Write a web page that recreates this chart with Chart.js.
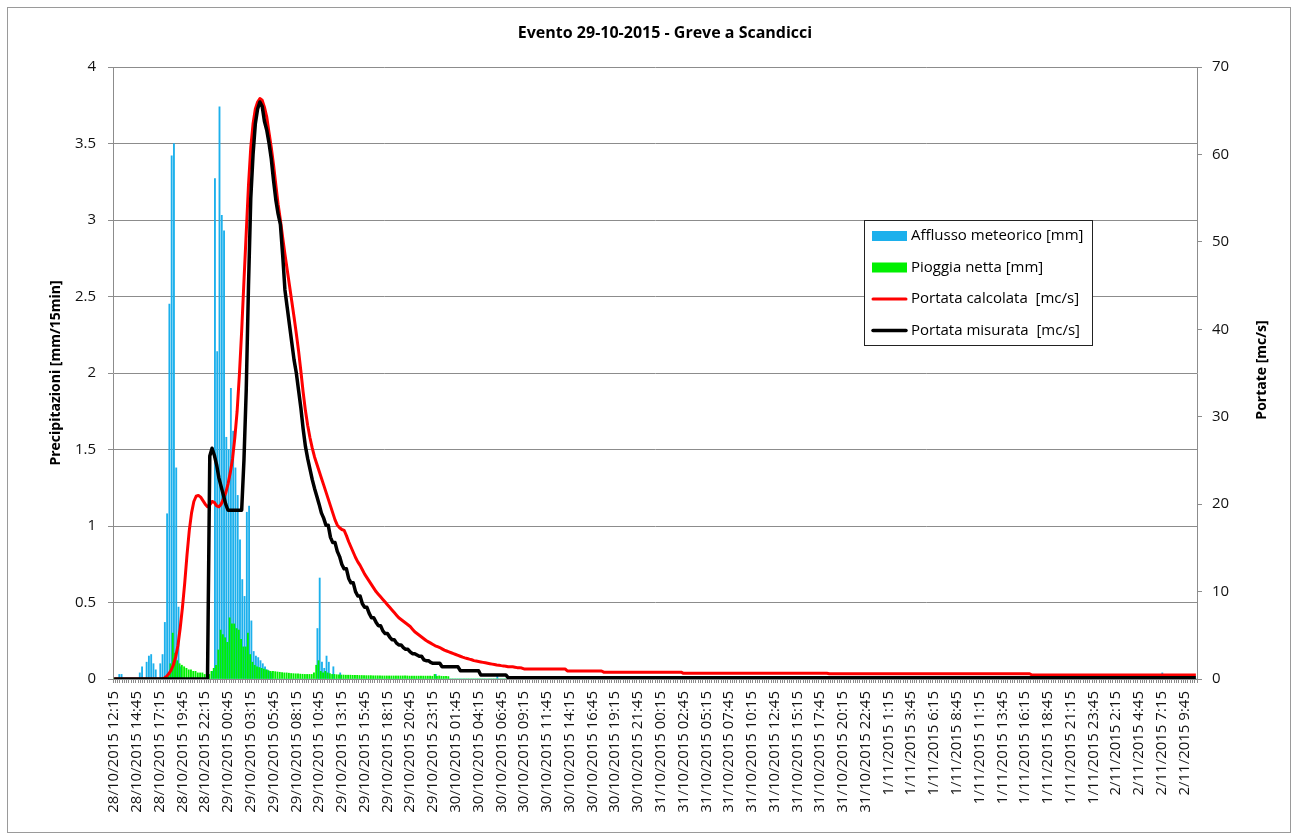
<!DOCTYPE html>
<html lang="it">
<head>
<meta charset="utf-8">
<title>Evento 29-10-2015 - Greve a Scandicci</title>
<script src="https://cdn.jsdelivr.net/npm/chart.js@4.4.1/dist/chart.umd.min.js"></script>
<style>
    html, body { margin: 0; padding: 0; background: #ffffff; }
    #wrap { position: relative; width: 1297px; height: 839px; }
    #frame {
        position: absolute; left: 7px; top: 7px; width: 1282px; height: 824px;
        border: 1px solid #9a9a9a; pointer-events: none;
    }
</style>
</head>
<body>
<div id="wrap">
    <canvas id="eventChart" width="1297" height="839"></canvas>
    <div id="frame"></div>
</div>

<script>
/* ================= DATA (one value every 15 min, 28/10/2015 12:15 -> 2/11/2015 11:00) ================= */
const tickLabels = [
    "28/10/2015 12:15", "28/10/2015 14:45", "28/10/2015 17:15", "28/10/2015 19:45", "28/10/2015 22:15",
    "29/10/2015 00:45", "29/10/2015 03:15", "29/10/2015 05:45", "29/10/2015 08:15", "29/10/2015 10:45",
    "29/10/2015 13:15", "29/10/2015 15:45", "29/10/2015 18:15", "29/10/2015 20:45", "29/10/2015 23:15",
    "30/10/2015 01:45", "30/10/2015 04:15", "30/10/2015 06:45", "30/10/2015 09:15", "30/10/2015 11:45",
    "30/10/2015 14:15", "30/10/2015 16:45", "30/10/2015 19:15", "30/10/2015 21:45",
    "31/10/2015 00:15", "31/10/2015 02:45", "31/10/2015 05:15", "31/10/2015 07:45", "31/10/2015 10:15",
    "31/10/2015 12:45", "31/10/2015 15:15", "31/10/2015 17:45", "31/10/2015 20:15", "31/10/2015 22:45",
    "1/11/2015 1:15", "1/11/2015 3:45", "1/11/2015 6:15", "1/11/2015 8:45", "1/11/2015 11:15",
    "1/11/2015 13:45", "1/11/2015 16:15", "1/11/2015 18:45", "1/11/2015 21:15", "1/11/2015 23:45",
    "2/11/2015 2:15", "2/11/2015 4:45", "2/11/2015 7:15", "2/11/2015 9:45"
];

// Afflusso meteorico [mm/15min]
const afflusso = [
    0,0,0.03,0.03,0,0,0,0,0,0, 0,0.04,0.08,0,0.11,0.15,0.16,0.1,0.06,0,
    0.1,0.16,0.37,1.08,2.45,3.42,3.5,1.38,0.47,0.08, 0,0,0,0,0,0,0,0,0,0,
    0,0,0,0.05,3.27,2.14,3.74,3.03,2.93,1.58, 1.5,1.9,1.62,1.38,1.2,0.91,0.65,0.54,1.09,1.13,
    0.38,0.18,0.15,0.14,0.12,0.1,0.08,0.06,0.05,0.04, 0,0,0,0,0,0,0,0,0,0,
    0,0,0,0,0,0,0,0,0,0.33, 0.66,0.11,0.07,0.15,0.11,0,0.08,0,0,0.04,
    0,0,0,0,0,0,0,0,0,0, 0,0,0,0,0,0,0,0,0,0,
    0,0,0,0,0,0,0,0,0,0, 0,0,0,0,0,0,0,0,0,0,
    0,0.03,0,0,0,0,0,0,0,0, 0,0,0,0,0,0,0,0,0,0,
    0,0,0,0,0,0,0,0,0.02,0, 0,0,0,0,0,0,0,0,0,0,
    0,0,0,0,0,0,0,0,0,0, 0,0,0,0,0,0,0,0,0,0,
    0,0,0,0,0,0,0,0,0,0, 0,0,0,0,0,0,0,0,0,0,
    0,0,0,0,0,0,0,0,0,0, 0,0,0,0,0,0,0,0,0,0,
    0,0,0,0,0,0,0,0,0,0, 0,0,0,0,0,0,0,0,0,0,
    0,0,0,0,0,0,0,0,0,0, 0,0,0,0,0,0,0,0,0,0,
    0,0,0,0,0,0,0,0,0,0, 0,0,0,0,0,0,0,0,0,0,
    0,0,0,0,0,0,0,0,0,0, 0,0,0,0,0,0,0,0,0,0,
    0,0,0,0,0,0,0,0,0,0, 0,0,0,0,0,0,0,0,0,0,
    0,0,0,0,0,0,0,0,0,0, 0,0,0,0,0,0,0,0,0,0,
    0,0,0,0,0,0,0,0,0,0, 0,0,0,0,0,0,0,0,0,0,
    0,0,0,0,0,0,0,0,0,0, 0,0,0,0,0,0,0,0,0,0,
    0,0,0,0,0,0,0,0,0,0, 0,0,0,0,0,0,0,0,0,0,
    0,0,0,0,0,0,0,0,0,0, 0,0,0,0,0,0,0,0,0,0,
    0,0,0,0,0,0,0,0,0,0, 0,0,0,0,0,0,0,0,0,0,
    0.04,0,0,0,0,0,0,0,0,0, 0,0,0,0,0,0
];

// Pioggia netta [mm/15min]
const pioggiaNetta = [
    0,0,0,0,0,0,0,0,0,0, 0,0,0,0,0,0,0,0,0,0,
    0,0,0,0,0.03,0.1,0.3,0.17,0.12,0.1, 0.09,0.08,0.07,0.06,0.06,0.05,0.05,0.04,0.04,0.04,
    0.03,0.03,0.03,0.05,0.07,0.09,0.19,0.32,0.29,0.27, 0.24,0.4,0.36,0.36,0.33,0.32,0.26,0.21,0.21,0.3,
    0.16,0.11,0.09,0.08,0.075,0.07,0.065,0.06,0.055,0.05, 0.05,0.048,0.046,0.044,0.042,0.04,0.04,0.038,0.036,0.035,
    0.034,0.033,0.032,0.031,0.03,0.03,0.03,0.03,0.04,0.09, 0.12,0.05,0.04,0.05,0.04,0.035,0.03,0.03,0.028,0.027,
    0.026,0.026,0.025,0.025,0.025,0.024,0.024,0.024,0.023,0.023, 0.023,0.022,0.022,0.022,0.021,0.021,0.021,0.02,0.02,0.02,
    0.02,0.02,0.02,0.02,0.02,0.02,0.02,0.02,0.02,0.02, 0.019,0.019,0.019,0.019,0.019,0.019,0.019,0.019,0.019,0.019,
    0.018,0.03,0.018,0.02,0.018,0.017,0.017,0.016,0,0, 0,0,0,0,0,0,0,0,0,0,
    0,0,0,0,0,0,0,0,0,0, 0,0,0,0,0,0,0,0,0,0,
    0,0,0,0,0,0,0,0,0,0, 0,0,0,0,0,0,0,0,0,0,
    0,0,0,0,0,0,0,0,0,0, 0,0,0,0,0,0,0,0,0,0,
    0,0,0,0,0,0,0,0,0,0, 0,0,0,0,0,0,0,0,0,0,
    0,0,0,0,0,0,0,0,0,0, 0,0,0,0,0,0,0,0,0,0,
    0,0,0,0,0,0,0,0,0,0, 0,0,0,0,0,0,0,0,0,0,
    0,0,0,0,0,0,0,0,0,0, 0,0,0,0,0,0,0,0,0,0,
    0,0,0,0,0,0,0,0,0,0, 0,0,0,0,0,0,0,0,0,0,
    0,0,0,0,0,0,0,0,0,0, 0,0,0,0,0,0,0,0,0,0,
    0,0,0,0,0,0,0,0,0,0, 0,0,0,0,0,0,0,0,0,0,
    0,0,0,0,0,0,0,0,0,0, 0,0,0,0,0,0,0,0,0,0,
    0,0,0,0,0,0,0,0,0,0, 0,0,0,0,0,0,0,0,0,0,
    0,0,0,0,0,0,0,0,0,0, 0,0,0,0,0,0,0,0,0,0,
    0,0,0,0,0,0,0,0,0,0, 0,0,0,0,0,0,0,0,0,0,
    0,0,0,0,0,0,0,0,0,0, 0,0,0,0,0,0,0,0,0,0,
    0,0,0,0,0,0,0,0,0,0, 0,0,0,0,0,0
];

// Portata calcolata [mc/s]
const portataCalcolata = [
    0,0,0,0,0,0,0,0,0,0, 0,0,0,0,0,0,0,0,0,0,
    0,0,0.1,0.3,0.6,1,1.6,2.5,3.8,5.8, 8.2,11,14.2,17,19,20.3,20.9,21,20.8,20.4,
    20,19.7,19.9,20.3,20.2,19.8,19.7,20,20.6,21.3, 22.3,23.6,25.2,27.6,30.6,34.8,39.8,45.5,51,56.5,
    60.8,63.5,65.2,66,66.4,66.2,65.4,64.3,62.5,60.8, 58.8,56.5,54.3,52.5,50.5,48.6,46.8,45,43.2,41.4,
    39.5,37.5,35.2,32.8,30.7,29,27.6,26.4,25.4,24.6, 23.8,23,22.2,21.4,20.6,19.8,19,18.2,17.6,17.3,
    17.1,17,16.4,15.7,15.1,14.5,13.9,13.4,13,12.5, 12,11.6,11.2,10.8,10.4,10,9.7,9.4,9.1,8.8,
    8.5,8.2,7.9,7.6,7.3,7,6.8,6.6,6.4,6.2, 6,5.7,5.4,5.2,5,4.8,4.6,4.4,4.25,4.1,
    3.95,3.8,3.7,3.6,3.45,3.3,3.2,3.1,3,2.9, 2.8,2.7,2.6,2.5,2.42,2.35,2.27,2.2,2.1,2.05,
    2,1.95,1.9,1.85,1.8,1.75,1.7,1.65,1.6,1.57, 1.53,1.5,1.45,1.4,1.4,1.4,1.35,1.3,1.3,1.25,
    1.15,1.15,1.15,1.15,1.15,1.15,1.15,1.15,1.15,1.15, 1.15,1.15,1.15,1.15,1.15,1.15,1.15,1.15,1.15,0.92,
    0.92,0.92,0.92,0.92,0.92,0.92,0.92,0.92,0.92,0.92, 0.92,0.92,0.92,0.92,0.92,0.78,0.78,0.78,0.78,0.78,
    0.78,0.78,0.78,0.78,0.78,0.78,0.78,0.78,0.78,0.78, 0.78,0.78,0.78,0.78,0.78,0.78,0.78,0.78,0.78,0.78,
    0.78,0.78,0.78,0.78,0.78,0.78,0.78,0.78,0.78,0.78, 0.65,0.65,0.65,0.65,0.65,0.65,0.65,0.65,0.65,0.65,
    0.65,0.65,0.65,0.65,0.65,0.65,0.65,0.65,0.65,0.65, 0.65,0.65,0.65,0.65,0.65,0.65,0.65,0.65,0.65,0.65,
    0.65,0.65,0.65,0.65,0.65,0.65,0.65,0.65,0.65,0.65, 0.65,0.65,0.65,0.65,0.65,0.65,0.65,0.65,0.65,0.65,
    0.65,0.65,0.65,0.65,0.65,0.65,0.65,0.65,0.65,0.65, 0.65,0.65,0.65,0.65,0.6,0.6,0.6,0.6,0.6,0.6,
    0.6,0.6,0.6,0.6,0.6,0.6,0.6,0.6,0.6,0.6, 0.6,0.6,0.6,0.6,0.6,0.6,0.6,0.6,0.6,0.6,
    0.6,0.6,0.6,0.6,0.6,0.6,0.6,0.6,0.6,0.6, 0.6,0.6,0.6,0.6,0.6,0.6,0.6,0.6,0.6,0.6,
    0.6,0.6,0.6,0.6,0.6,0.6,0.6,0.6,0.6,0.6, 0.6,0.6,0.6,0.6,0.6,0.6,0.6,0.6,0.6,0.6,
    0.6,0.6,0.6,0.6,0.6,0.6,0.6,0.6,0.6,0.6, 0.6,0.6,0.6,0.6,0.6,0.6,0.6,0.6,0.6,0.6,
    0.6,0.6,0.6,0.45,0.45,0.45,0.45,0.45,0.45,0.45, 0.45,0.45,0.45,0.45,0.45,0.45,0.45,0.45,0.45,0.45,
    0.45,0.45,0.45,0.45,0.45,0.45,0.45,0.45,0.45,0.45, 0.45,0.45,0.45,0.45,0.45,0.45,0.45,0.45,0.45,0.45,
    0.45,0.45,0.45,0.45,0.45,0.45,0.45,0.45,0.45,0.45, 0.45,0.45,0.45,0.45,0.45,0.45,0.45,0.45,0.45,0.45,
    0.45,0.45,0.45,0.45,0.45,0.45,0.45,0.45,0.45,0.45, 0.45,0.45,0.45,0.45,0.45,0.45
];

// Portata misurata [mc/s]
const portataMisurata = [
    0,0,0,0,0,0,0,0,0,0, 0,0,0,0,0,0,0,0,0,0,
    0,0,0,0,0,0,0,0,0,0, 0,0,0,0,0,0,0,0,0,0,
    0,0,25.5,26.4,25.6,24.5,23,22,21,20, 19.3,19.3,19.3,19.3,19.3,19.3,19.3,25,33,45,
    55,60,63.5,65.2,66,65.5,63.8,62.8,61.3,59.5, 57,54.8,53.2,52,48.5,44.5,42.5,40.5,38.5,36.5,
    35,33,31,28.6,26.6,25.2,24,22.8,21.8,20.9, 20,19,18.4,17.6,17.6,16.2,15.6,15.6,14.6,14,
    13.1,12.6,12.6,11.5,11,11,10,9.5,9.5,8.6, 8.2,8.2,7.5,7,7,6.5,6.1,6.1,5.5,5.2,
    5.2,4.8,4.5,4.5,4.1,3.9,3.9,3.6,3.4,3.4, 3.1,2.9,2.9,2.75,2.6,2.6,2.2,2.1,2.1,1.9,
    1.8,1.8,1.8,1.8,1.4,1.4,1.4,1.4,1.4,1.4, 1.4,1.4,0.95,0.95,0.95,0.95,0.95,0.95,0.95,0.95,
    0.95,0.46,0.46,0.46,0.46,0.46,0.46,0.46,0.46,0.46, 0.46,0.46,0.46,0.15,0.15,0.15,0.15,0.15,0.15,0.15,
    0.15,0.15,0.15,0.15,0.15,0.15,0.15,0.15,0.15,0.15, 0.15,0.15,0.15,0.15,0.15,0.15,0.15,0.15,0.15,0.15,
    0.15,0.15,0.15,0.15,0.15,0.15,0.15,0.15,0.15,0.15, 0.15,0.15,0.15,0.15,0.15,0.15,0.15,0.15,0.15,0.15,
    0.15,0.15,0.15,0.15,0.15,0.15,0.15,0.15,0.15,0.15, 0.15,0.15,0.15,0.15,0.15,0.15,0.15,0.15,0.15,0.15,
    0.15,0.15,0.15,0.15,0.15,0.15,0.15,0.15,0.15,0.15, 0.15,0.15,0.15,0.15,0.15,0.15,0.15,0.15,0.15,0.15,
    0.15,0.15,0.15,0.15,0.15,0.15,0.15,0.15,0.15,0.15, 0.15,0.15,0.15,0.15,0.15,0.15,0.15,0.15,0.15,0.15,
    0.15,0.15,0.15,0.15,0.15,0.15,0.15,0.15,0.15,0.15, 0.15,0.15,0.15,0.15,0.15,0.15,0.15,0.15,0.15,0.15,
    0.15,0.15,0.15,0.15,0.15,0.15,0.15,0.15,0.15,0.15, 0.15,0.15,0.15,0.15,0.15,0.15,0.15,0.15,0.15,0.15,
    0.15,0.15,0.15,0.15,0.15,0.15,0.15,0.15,0.15,0.15, 0.15,0.15,0.15,0.15,0.15,0.15,0.15,0.15,0.15,0.15,
    0.15,0.15,0.15,0.15,0.15,0.15,0.15,0.15,0.15,0.15, 0.15,0.15,0.15,0.15,0.15,0.15,0.15,0.15,0.15,0.15,
    0.15,0.15,0.15,0.15,0.15,0.15,0.15,0.15,0.15,0.15, 0.15,0.15,0.15,0.15,0.15,0.15,0.15,0.15,0.15,0.15,
    0.15,0.15,0.15,0.15,0.15,0.15,0.15,0.15,0.15,0.15, 0.15,0.15,0.15,0.15,0.15,0.15,0.15,0.15,0.15,0.15,
    0.15,0.15,0.15,0.15,0.15,0.15,0.15,0.15,0.15,0.15, 0.15,0.15,0.15,0.15,0.15,0.15,0.15,0.15,0.15,0.15,
    0.15,0.15,0.15,0.15,0.15,0.15,0.15,0.15,0.15,0.15, 0.15,0.15,0.15,0.15,0.15,0.15,0.15,0.15,0.15,0.15,
    0.15,0.15,0.15,0.15,0.15,0.15,0.15,0.15,0.15,0.15, 0.15,0.15,0.15,0.15,0.15,0.15,0.15,0.15,0.15,0.15,
    0.15,0.15,0.15,0.15,0.15,0.15,0.15,0.15,0.15,0.15, 0.15,0.15,0.15,0.15,0.15,0.15
];

/* ================= CATEGORIES (15 min steps) ================= */
function pad2(n) {
    return n < 10 ? "0" + n : String(n);
}

const startTime = new Date(2015, 9, 28, 12, 15);
const categories = afflusso.map((_, i) => {
    const d = new Date(startTime.getTime() + i * 15 * 60000);
    return d.getDate() + "/" + (d.getMonth() + 1) + "/2015 " + d.getHours() + ":" + pad2(d.getMinutes());
});

/* ================= LEGEND INSIDE PLOT + TITLES ================= */
const FONT = "'Open Sans', 'Liberation Sans', sans-serif";

const insideLegend = {
    id: "insideLegend",
    afterDraw(chart) {
        const ctx = chart.ctx;
        const area = chart.chartArea;
        const bx = area.right - 333;
        const by = area.top + 153;
        const bw = 228;
        const bh = 125;

        ctx.save();

        // chart title
        ctx.fillStyle = "#000000";
        ctx.font = "bold 16px " + FONT;
        ctx.textAlign = "center";
        ctx.textBaseline = "middle";
        ctx.fillText("Evento 29-10-2015 - Greve a Scandicci", 665, 33);

        // right axis title, read bottom to top like the left one
        ctx.save();
        ctx.font = "bold 14px " + FONT;
        ctx.translate(1262, (area.top + area.bottom) / 2 - 3);
        ctx.rotate(-Math.PI / 2);
        ctx.fillText("Portate [mc/s]", 0, 0);
        ctx.restore();

        // legend box
        ctx.fillStyle = "#ffffff";
        ctx.fillRect(bx, by, bw, bh);
        ctx.strokeStyle = "#222222";
        ctx.lineWidth = 1;
        ctx.strokeRect(bx + 0.5, by + 0.5, bw, bh);

        ctx.font = "15px " + FONT;
        ctx.textAlign = "left";
        chart.data.datasets.forEach((ds, k) => {
            const cy = by + 16 + k * 31.5;
            if (ds.type === "line") {
                ctx.strokeStyle = ds.borderColor;
                ctx.lineWidth = ds.borderWidth;
                ctx.lineCap = "round";
                ctx.beginPath();
                ctx.moveTo(bx + 9, cy);
                ctx.lineTo(bx + 42, cy);
                ctx.stroke();
            } else {
                ctx.fillStyle = ds.backgroundColor;
                ctx.fillRect(bx + 8, cy - 5, 35, 10);
            }
            ctx.fillStyle = "#000000";
            ctx.fillText(ds.label, bx + 47, cy);
        });

        ctx.restore();
    }
};

/* ================= CHART ================= */
Chart.defaults.font.family = FONT;
Chart.defaults.color = "#000000";

const ctx = document.getElementById("eventChart").getContext("2d");

new Chart(ctx, {
    type: "bar",
    data: {
        labels: categories,
        datasets: [
            {
                label: "Afflusso meteorico [mm]",
                data: afflusso,
                backgroundColor: "#1CB0EC",
                yAxisID: "y",
                barThickness: 1.2,
                order: 4
            },
            {
                label: "Pioggia netta [mm]",
                data: pioggiaNetta,
                backgroundColor: "#00F000",
                yAxisID: "y",
                barThickness: 1.2,
                order: 3
            },
            {
                type: "line",
                label: "Portata calcolata  [mc/s]",
                data: portataCalcolata,
                borderColor: "#FF0000",
                backgroundColor: "#FF0000",
                borderWidth: 3,
                pointRadius: 0,
                borderJoinStyle: "round",
                yAxisID: "y1",
                order: 2
            },
            {
                type: "line",
                label: "Portata misurata  [mc/s]",
                data: portataMisurata,
                borderColor: "#000000",
                backgroundColor: "#000000",
                borderWidth: 3.5,
                pointRadius: 0,
                borderJoinStyle: "round",
                yAxisID: "y1",
                order: 1
            }
        ]
    },
    options: {
        responsive: false,
        animation: false,
        devicePixelRatio: 1,
        layout: {
            padding: { left: 44, right: 24, top: 67, bottom: 0 }
        },
        plugins: {
            legend: { display: false },
            title: { display: false },
            tooltip: { enabled: false }
        },
        scales: {
            x: {
                afterFit(scale) { scale.height = 160; },
                grid: {
                    drawOnChartArea: false,
                    drawTicks: true,
                    tickLength: 4,
                    color: "#8c8c8c"
                },
                border: { display: true, color: "#8c8c8c" },
                ticks: {
                    autoSkip: false,
                    minRotation: 90,
                    maxRotation: 90,
                    padding: 8,
                    color: "#111111",
                    font: { size: 15 },
                    callback: (value, index) => (index % 10 === 0 ? tickLabels[index / 10] || "" : "")
                }
            },
            y: {
                position: "left",
                min: 0,
                max: 4,
                afterFit(scale) { scale.width = 69; },
                grid: { color: "#8c8c8c", tickLength: 5 },
                border: { display: true, color: "#8c8c8c" },
                ticks: {
                    stepSize: 0.5,
                    padding: 12,
                    font: { size: 15 },
                    color: "#111111",
                    callback: (value) => String(Number(value))
                },
                title: {
                    display: true,
                    text: "Precipitazioni [mm/15min]",
                    font: { size: 14, weight: "bold" },
                    padding: { top: 4, bottom: 0 }
                }
            },
            y1: {
                position: "right",
                min: 0,
                max: 70,
                afterFit(scale) { scale.width = 76; },
                grid: { drawOnChartArea: false, color: "#8c8c8c", tickLength: 5 },
                border: { display: true, color: "#8c8c8c" },
                ticks: {
                    stepSize: 10,
                    padding: 10,
                    font: { size: 15 },
                    color: "#111111"
                }
            }
        }
    },
    plugins: [insideLegend]
});
</script>
</body>
</html>
